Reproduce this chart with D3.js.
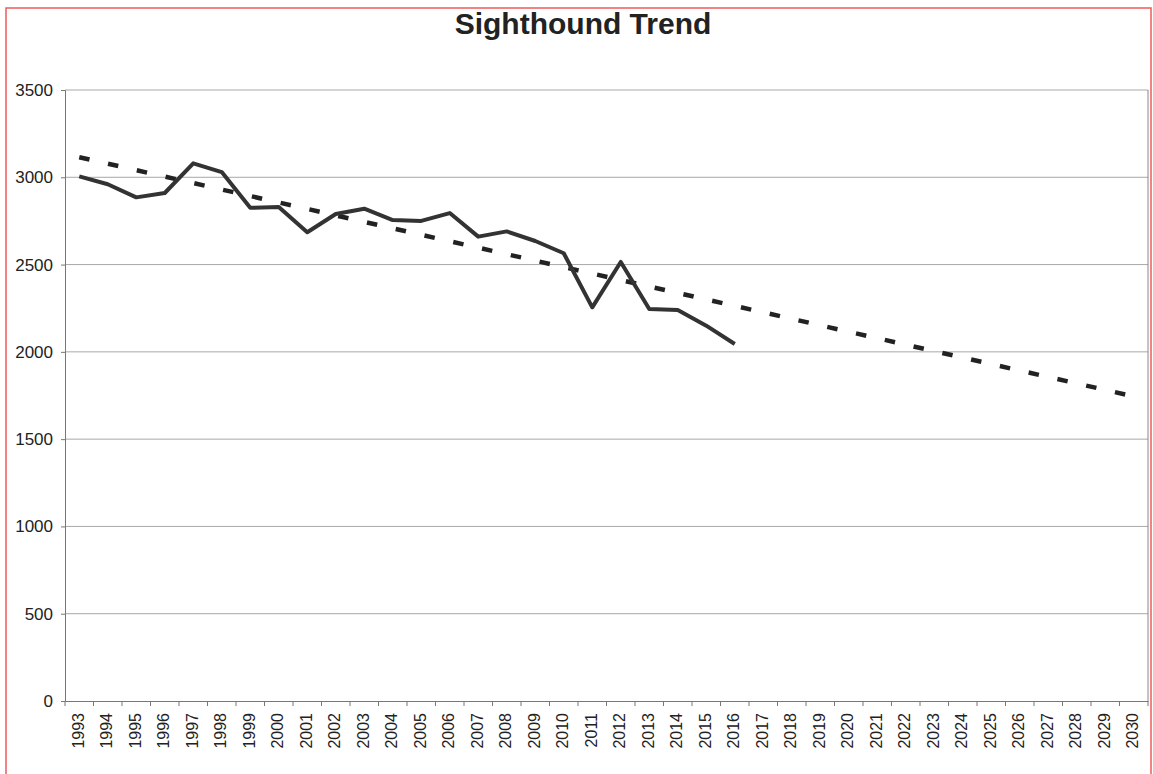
<!DOCTYPE html>
<html>
<head>
<meta charset="utf-8">
<script src="https://cdn.jsdelivr.net/npm/d3@7"></script>
<style>
  body { margin: 0; background: #fff; }
  text { font-family: "Liberation Sans", Arial, sans-serif; fill: #222; }
</style>
</head>
<body>
<svg id="chart" width="1153" height="774"></svg>
<script>
// data
const years = d3.range(1993, 2031).map(String);
const actualYears = d3.range(1993, 2017).map(String);
const actualValues = [3005, 2960, 2885, 2910, 3080, 3030, 2825, 2830, 2685, 2790,
                      2820, 2755, 2750, 2795, 2660, 2690, 2635, 2565, 2255, 2515,
                      2245, 2240, 2150, 2045];
const trendYears = ["1993", "2030"];
const trendValues = [3115, 1745];
const yTicks = [0, 500, 1000, 1500, 2000, 2500, 3000, 3500];

const svg = d3.select("#chart");
svg.selectAll("*").remove();

// page frame (the red border on the scan)
svg.append("rect")
  .attr("x", 6).attr("y", 8)
  .attr("width", 1145).attr("height", 800)
  .attr("fill", "none")
  .attr("stroke", "#f05a5a")
  .attr("stroke-width", 1.5);

const plotLeft = 65, plotRight = 1148, plotTop = 90, plotBottom = 701;

const x = d3.scaleBand().domain(years).range([plotLeft, plotRight]);
const y = d3.scaleLinear().domain([0, 3500]).range([plotBottom, plotTop]);

// title
svg.append("text")
  .attr("x", 583).attr("y", 34)
  .attr("text-anchor", "middle")
  .style("font-size", "30px")
  .style("font-weight", "bold")
  .text("Sighthound Trend");

// gridlines
svg.append("g")
  .selectAll("line")
  .data(yTicks.filter(d => d > 0))
  .join("line")
  .attr("x1", plotLeft).attr("x2", plotRight)
  .attr("y1", d => y(d)).attr("y2", d => y(d))
  .attr("stroke", "#a8a8a8")
  .attr("stroke-width", 1);

// right border of plot area
svg.append("line")
  .attr("x1", plotRight).attr("x2", plotRight)
  .attr("y1", plotTop).attr("y2", plotBottom)
  .attr("stroke", "#888");

// y axis
const yAxis = svg.append("g")
  .attr("transform", `translate(${plotLeft},0)`)
  .call(d3.axisLeft(y).tickValues(yTicks).tickSize(4).tickPadding(8).tickFormat(d3.format("d")));
yAxis.select(".domain").attr("stroke", "#777");
yAxis.selectAll(".tick line").attr("stroke", "#777");
yAxis.selectAll(".tick text")
  .style("font-size", "17px")
  .style("font-family", "'Liberation Sans', Arial, sans-serif")
  .attr("fill", "#222");

// x axis: ticks sit between categories
const xAxis = svg.append("g")
  .attr("transform", `translate(0,${plotBottom})`)
  .call(d3.axisBottom(x).tickSize(0).tickPadding(0));
xAxis.select(".domain").attr("stroke", "#777");
xAxis.selectAll(".tick text")
  .attr("transform", "rotate(-90)")
  .attr("x", -12).attr("y", -1).attr("dy", "0.35em")
  .style("text-anchor", "end")
  .style("font-size", "16px")
  .style("font-family", "'Liberation Sans', Arial, sans-serif")
  .attr("fill", "#222");
xAxis.append("g")
  .selectAll("line")
  .data(years.concat(["end"]))
  .join("line")
  .attr("x1", (d, i) => plotLeft + i * x.step())
  .attr("x2", (d, i) => plotLeft + i * x.step())
  .attr("y1", 0).attr("y2", 5)
  .attr("stroke", "#777");

const cx = d => x(d) + x.bandwidth() / 2;

// trend line
svg.append("path")
  .datum(trendYears.map((d, i) => [d, trendValues[i]]))
  .attr("fill", "none")
  .attr("stroke", "#222")
  .attr("stroke-width", 4.5)
  .attr("stroke-dasharray", "10.5,19")
  .attr("d", d3.line().x(d => cx(d[0])).y(d => y(d[1])));

// actual values
svg.append("path")
  .datum(actualYears.map((d, i) => [d, actualValues[i]]))
  .attr("fill", "none")
  .attr("stroke", "#333")
  .attr("stroke-width", 4)
  .attr("stroke-linejoin", "round")
  .attr("d", d3.line().x(d => cx(d[0])).y(d => y(d[1])));
</script>
</body>
</html>
